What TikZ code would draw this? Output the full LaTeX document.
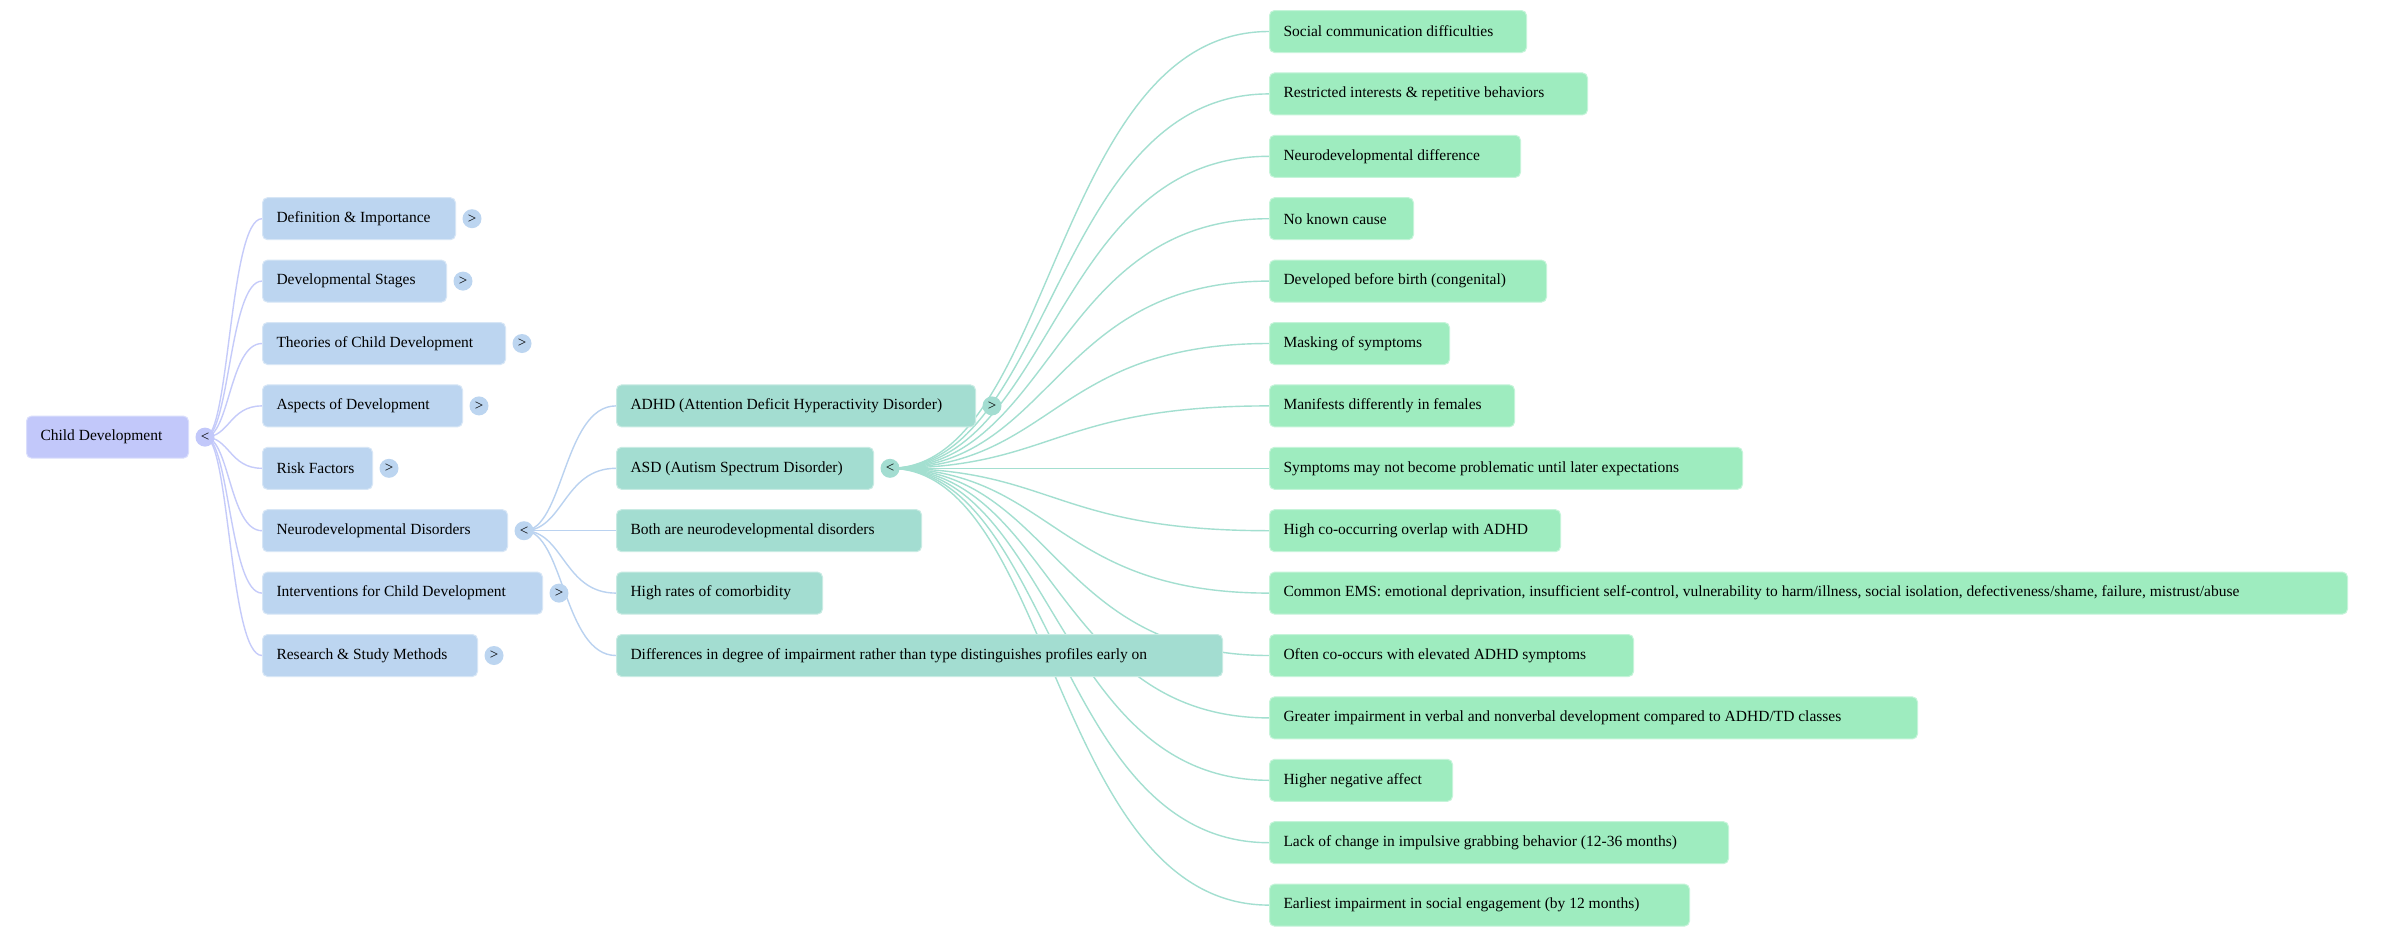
\documentclass[tikz,border=0pt]{standalone}
\usepackage{fontspec}
\setmainfont{Liberation Serif}
\usepackage{xcolor}
\usetikzlibrary{calc}
\pgfdeclarelayer{bg}
\pgfsetlayers{bg,main}

\definecolor{rootfill}{HTML}{C2C8FA}
\definecolor{onefill}{HTML}{BCD5F0}
\definecolor{twofill}{HTML}{A3DDD1}
\definecolor{threefill}{HTML}{9EECBF}
\definecolor{rootlink}{HTML}{C5CBFA}
\definecolor{onelink}{HTML}{BAD2F0}
\definecolor{twolink}{HTML}{A3DFD0}

% fixed text area, left aligned
\newcommand{\bx}[2]{\hbox to #1pt{#2\hss}}
% horizontal s-curve from a toggle to a child box
\newcommand{\mmlink}[3]{\begin{pgfonlayer}{bg}\draw[#1,line width=1.4pt] let \p1=(#2.center), \p2=(#3.west), \n1={\x1+0.43*(\x2-\x1)} in (\p1) .. controls (\n1,\y1) and (\n1,\y2) .. (\p2);\end{pgfonlayer}}

\begin{document}
\begin{tikzpicture}[x=1pt,y=-1pt,font=\fontsize{15.5}{18}\selectfont,
  box/.style={rounded corners=5pt,anchor=west,minimum height=42pt,inner xsep=14pt,inner ysep=0pt,line width=1pt},
  rootbox/.style={box,fill=rootfill,draw=rootfill!60!white},
  onebox/.style={box,fill=onefill,draw=onefill!60!white},
  twobox/.style={box,fill=twofill,draw=twofill!60!white},
  threebox/.style={box,fill=threefill,draw=threefill!60!white},
  toggle/.style={circle,minimum size=19pt,inner sep=0pt,font=\fontsize{15}{15}\selectfont}]
\begin{pgfonlayer}{bg}
\fill[white](0,0)rectangle(2400,937);
\end{pgfonlayer}
\useasboundingbox(0,0)rectangle(2400,937);

% root
\node[rootbox](root)at(26,437.1){\bx{134}{Child Development}};
\node[toggle,fill=rootfill](tgroot)at(205,437.1){<};

% first level
\node[onebox](def)at(262,218.7){\bx{165}{Definition \& Importance}};
\node[onebox](stages)at(262,281.1){\bx{156}{Developmental Stages}};
\node[onebox](theories)at(262,343.5){\bx{215}{Theories of Child Development}};
\node[onebox](aspects)at(262,405.9){\bx{172}{Aspects of Development}};
\node[onebox](risk)at(262,468.3){\bx{82}{Risk Factors}};
\node[onebox](ndd)at(262,530.7){\bx{217}{Neurodevelopmental Disorders}};
\node[onebox](interv)at(262,593.1){\bx{252}{Interventions for Child Development}};
\node[onebox](research)at(262,655.5){\bx{187}{Research \& Study Methods}};
\node[toggle,fill=onefill](tgdef)at(472,218.7){>};
\node[toggle,fill=onefill](tgstages)at(463,281.1){>};
\node[toggle,fill=onefill](tgtheories)at(522,343.5){>};
\node[toggle,fill=onefill](tgaspects)at(479,405.9){>};
\node[toggle,fill=onefill](tgrisk)at(389,468.3){>};
\node[toggle,fill=onefill](tgndd)at(524,530.7){<};
\node[toggle,fill=onefill](tginterv)at(559,593.1){>};
\node[toggle,fill=onefill](tgresearch)at(494,655.5){>};

% second level
\node[twobox](adhd)at(616,405.9){\bx{331}{ADHD (Attention Deficit Hyperactivity Disorder)}};
\node[twobox](asd)at(616,468.3){\bx{229}{ASD (Autism Spectrum Disorder)}};
\node[twobox](both)at(616,530.7){\bx{277}{Both are neurodevelopmental disorders}};
\node[twobox](comorb)at(616,593.1){\bx{178}{High rates of comorbidity}};
\node[twobox](degree)at(616,655.5){\bx{578}{Differences in degree of impairment rather than type distinguishes profiles early on}};
\node[toggle,fill=twofill](tgadhd)at(992,405.9){>};
\node[toggle,fill=twofill](tgasd)at(890,468.3){<};

% third level
\node[threebox](social)at(1269,31.5){\bx{229}{Social communication difficulties}};
\node[threebox](restrict)at(1269,93.9){\bx{290}{Restricted interests \& repetitive behaviors}};
\node[threebox](neurodiff)at(1269,156.3){\bx{223}{Neurodevelopmental difference}};
\node[threebox](nocause)at(1269,218.7){\bx{116}{No known cause}};
\node[threebox](congen)at(1269,281.1){\bx{249}{Developed before birth (congenital)}};
\node[threebox](masking)at(1269,343.5){\bx{152}{Masking of symptoms}};
\node[threebox](females)at(1269,405.9){\bx{217}{Manifests differently in females}};
\node[threebox](later)at(1269,468.3){\bx{445}{Symptoms may not become problematic until later expectations}};
\node[threebox](overlap)at(1269,530.7){\bx{263}{High co-occurring overlap with ADHD}};
\node[threebox](ems)at(1269,593.1){\bx{1050}{Common EMS: emotional deprivation, insufficient self-control, vulnerability to harm/illness, social isolation, defectiveness/shame, failure, mistrust/abuse}};
\node[threebox](elevated)at(1269,655.5){\bx{336}{Often co-occurs with elevated ADHD symptoms}};
\node[threebox](verbal)at(1269,717.9){\bx{620}{Greater impairment in verbal and nonverbal development compared to ADHD/TD classes}};
\node[threebox](negaff)at(1269,780.3){\bx{155}{Higher negative affect}};
\node[threebox](grabbing)at(1269,842.7){\bx{431}{Lack of change in impulsive grabbing behavior (12-36 months)}};
\node[threebox](engage)at(1269,905.1){\bx{392}{Earliest impairment in social engagement (by 12 months)}};

% links
\foreach \c in {def,stages,theories,aspects,risk,ndd,interv,research}
  {\mmlink{rootlink}{tgroot}{\c}}
\foreach \c in {adhd,asd,both,comorb,degree}
  {\mmlink{onelink}{tgndd}{\c}}
\foreach \c in {social,restrict,neurodiff,nocause,congen,masking,females,later,overlap,ems,elevated,verbal,negaff,grabbing,engage}
  {\mmlink{twolink}{tgasd}{\c}}
\end{tikzpicture}
\end{document}
